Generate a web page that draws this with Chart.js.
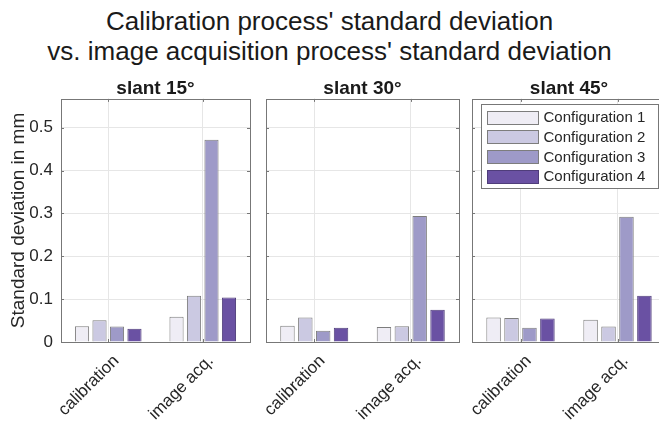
<!DOCTYPE html>
<html>
<head>
<meta charset="utf-8">
<script src="https://cdn.jsdelivr.net/npm/chart.js@4/dist/chart.umd.min.js"></script>
<style>
    html, body { margin: 0; padding: 0; background: #fff; }
    #figure { position: relative; width: 659px; height: 421px; overflow: hidden; }
    #suptitle {
        position: absolute; left: 0; top: 6px; width: 659px;
        text-align: center; font: 26px "Liberation Sans", Arial, Helvetica, sans-serif;
        line-height: 30px; color: #1a1a1a;
    }
    .panel { position: absolute; top: 68px; height: 353px; }
</style>
</head>
<body>
<div id="figure">
    <div id="suptitle">Calibration process' standard deviation<br>vs. image acquisition process' standard deviation</div>
    <div class="panel" id="p0"><canvas id="c0"></canvas></div>
    <div class="panel" id="p1"><canvas id="c1"></canvas></div>
    <div class="panel" id="p2"><canvas id="c2"></canvas></div>
</div>
<script>
const categories = ["calibration", "image acq."];
const slantTitles = ["slant 15°", "slant 30°", "slant 45°"];
const configLabels = ["Configuration 1", "Configuration 2", "Configuration 3", "Configuration 4"];
const configColors = ["#efedf5", "#cbc9e2", "#9e9ac8", "#6a51a3"];

// standard deviation (mm) per configuration 1..4
const slant15Calibration = [0.037, 0.051, 0.036, 0.031];
const slant15ImageAcq    = [0.059, 0.108, 0.472, 0.104];
const slant30Calibration = [0.038, 0.057, 0.026, 0.033];
const slant30ImageAcq    = [0.035, 0.037, 0.294, 0.075];
const slant45Calibration = [0.057, 0.056, 0.033, 0.055];
const slant45ImageAcq    = [0.052, 0.036, 0.292, 0.108];

const yTicksStep = 0.1;
const yMax = 0.567;

const FONT = "'Liberation Sans', Arial, Helvetica, sans-serif";
const AXIS_COLOR = "#777777";
const TEXT_COLOR = "#262626";
const GRID_COLOR = "#e6e6e6";

// left offset, canvas width, y axis band width, right padding
const panels = [
    { left: 0,   width: 256, yWidth: 61, padRight: 6 },
    { left: 256, width: 208, yWidth: 10, padRight: 5 },
    { left: 464, width: 208, yWidth: 8,  padRight: 6 }
];

const slantData = [
    [slant15Calibration, slant15ImageAcq],
    [slant30Calibration, slant30ImageAcq],
    [slant45Calibration, slant45ImageAcq]
];

// box around the axes with small inward tick marks
const axesBox = {
    id: "axesBox",
    afterDatasetsDraw(chart) {
        const { ctx, chartArea: a, scales } = chart;
        ctx.save();
        ctx.strokeStyle = AXIS_COLOR;
        ctx.lineWidth = 1;
        ctx.beginPath();
        scales.y.ticks.forEach(t => {
            const py = Math.round(scales.y.getPixelForValue(t.value)) + 0.5;
            ctx.moveTo(a.left, py); ctx.lineTo(a.left + 3, py);
            ctx.moveTo(a.right, py); ctx.lineTo(a.right - 3, py);
        });
        scales.x.ticks.forEach((t, i) => {
            const px = Math.round(scales.x.getPixelForTick(i)) + 0.5;
            ctx.moveTo(px, a.top); ctx.lineTo(px, a.top + 3);
            ctx.moveTo(px, a.bottom); ctx.lineTo(px, a.bottom - 3);
        });
        ctx.stroke();
        ctx.strokeRect(Math.round(a.left) + 0.5, Math.round(a.top) + 0.5,
                       Math.round(a.right - a.left), Math.round(a.bottom - a.top));
        ctx.restore();
    }
};

// legend box drawn inside the plot area
const boxedLegend = {
    id: "boxedLegend",
    afterDraw(chart, args, opts) {
        if (!opts.show) return;
        const { ctx, chartArea: a } = chart;
        const x0 = Math.round(a.left) + 9.5, y0 = Math.round(a.top) + 5.5;
        const w = 177, h = 84;
        ctx.save();
        ctx.fillStyle = "#fff";
        ctx.fillRect(x0, y0, w, h);
        ctx.strokeStyle = AXIS_COLOR;
        ctx.lineWidth = 1;
        ctx.strokeRect(x0, y0, w, h);
        ctx.font = "15px " + FONT;
        ctx.textBaseline = "middle";
        chart.data.datasets.forEach((ds, i) => {
            const cy = y0 + 12.5 + i * 19.7;
            ctx.fillStyle = ds.backgroundColor;
            ctx.fillRect(x0 + 6, Math.round(cy - 6.5) + 0.5, 51, 13);
            ctx.strokeStyle = ds.borderColor;
            ctx.strokeRect(x0 + 6, Math.round(cy - 6.5) + 0.5, 51, 13);
            ctx.fillStyle = TEXT_COLOR;
            ctx.fillText(ds.label, x0 + 62, cy + 1);
        });
        ctx.restore();
    }
};

function buildChart(idx) {
    const p = panels[idx];
    const box = document.getElementById("p" + idx);
    box.style.left = p.left + "px";
    box.style.width = p.width + "px";

    const [cal, img] = slantData[idx];
    const datasets = configLabels.map((label, i) => ({
        label: label,
        data: [cal[i], img[i]],
        backgroundColor: configColors[i],
        borderColor: i === 3 ? "#4f3d7a" : "#7d7d7d",
        borderWidth: 1,
        categoryPercentage: 0.74,
        barPercentage: 0.81
    }));

    new Chart(document.getElementById("c" + idx), {
        type: "bar",
        data: { labels: categories, datasets: datasets },
        options: {
            responsive: true,
            maintainAspectRatio: false,
            animation: false,
            layout: { padding: { left: 0, right: p.padRight, top: 0, bottom: 0 } },
            plugins: {
                legend: { display: false },
                tooltip: { enabled: false },
                title: {
                    display: true,
                    fullSize: false,
                    text: slantTitles[idx],
                    color: "#1a1a1a",
                    font: { family: FONT, size: 19, weight: "bold", lineHeight: 1.1 },
                    padding: { top: 10, bottom: 0 }
                },
                boxedLegend: { show: idx === 2 }
            },
            scales: {
                x: {
                    grid: { offset: false, color: GRID_COLOR, drawTicks: false },
                    border: { display: false },
                    ticks: {
                        maxRotation: 45, minRotation: 45,
                        padding: 9,
                        labelOffset: 8,
                        color: TEXT_COLOR,
                        font: { family: FONT, size: 17 }
                    },
                    afterFit(scale) {
                        // rotated labels may spill into the neighbouring panel
                        scale.height = 79;
                        scale.paddingLeft = 0;
                        scale.paddingRight = 0;
                    }
                },
                y: {
                    min: 0,
                    max: yMax,
                    grid: { color: GRID_COLOR, drawTicks: false },
                    border: { display: false },
                    ticks: {
                        display: idx === 0,
                        stepSize: yTicksStep,
                        includeBounds: false,
                        padding: 8,
                        color: TEXT_COLOR,
                        font: { family: FONT, size: 17 }
                    },
                    title: {
                        display: idx === 0,
                        text: "Standard deviation in mm",
                        color: TEXT_COLOR,
                        font: { family: FONT, size: 19 },
                        padding: { top: 7, bottom: 0 }
                    },
                    afterFit(scale) { scale.width = p.yWidth; }
                }
            }
        },
        plugins: [axesBox, boxedLegend]
    });
}

panels.forEach((p, i) => buildChart(i));
</script>
</body>
</html>
